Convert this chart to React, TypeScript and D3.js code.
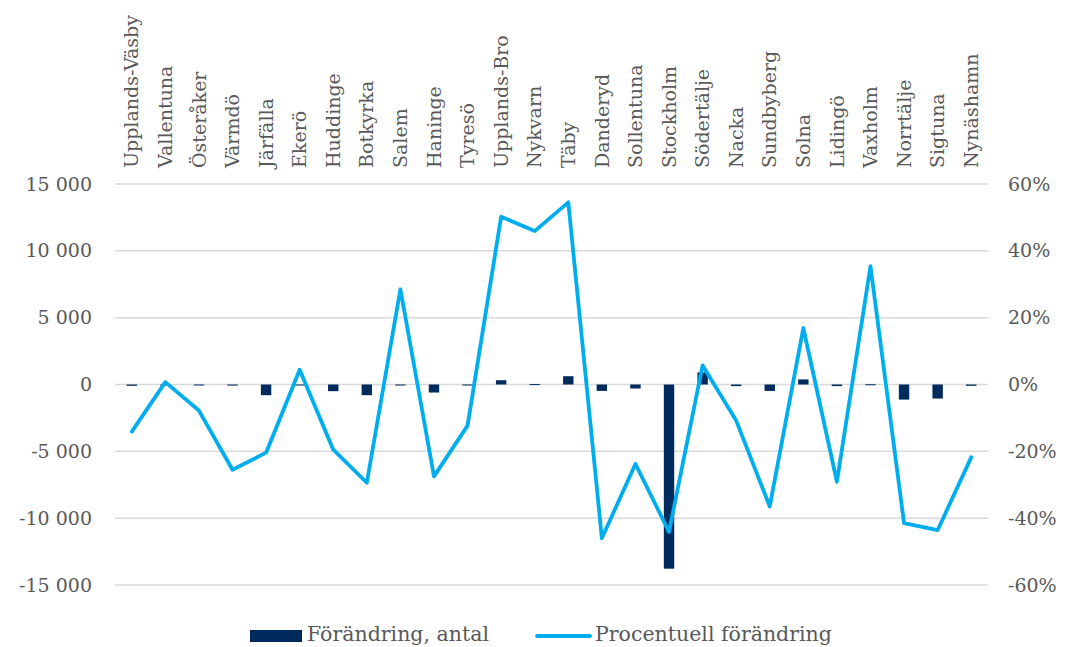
import React from 'react'
import * as d3 from 'd3'

const municipalities = [
  'Upplands-Väsby', 'Vallentuna', 'Österåker', 'Värmdö', 'Järfälla', 'Ekerö',
  'Huddinge', 'Botkyrka', 'Salem', 'Haninge', 'Tyresö', 'Upplands-Bro',
  'Nykvarn', 'Täby', 'Danderyd', 'Sollentuna', 'Stockholm', 'Södertälje',
  'Nacka', 'Sundbyberg', 'Solna', 'Lidingö', 'Vaxholm', 'Norrtälje',
  'Sigtuna', 'Nynäshamn',
]

// Förändring, antal
const changeCount = [
  -100, -20, -30, -80, -800, -20, -500, -800, -20, -600, -50, 320,
  30, 620, -480, -300, -13780, 900, -120, -480, 380, -120, 20, -1130,
  -1050, -100,
]

// Procentuell förändring (%)
const changePct = [
  -14.1, 0.7, -7.8, -25.5, -20.4, 4.4, -19.5, -29.4, 28.5, -27.5, -12.3, 50.2,
  45.9, 54.5, -46, -23.8, -44.1, 5.7, -10.8, -36.5, 16.9, -29.1, 35.4, -41.5,
  -43.6, -21.8,
]

const leftTicks = [-15000, -10000, -5000, 0, 5000, 10000, 15000]
const rightTicks = [-60, -40, -20, 0, 20, 40, 60]

const legendLabels = ['Förändring, antal', 'Procentuell förändring']

const W = 1067
const H = 647
const FONT = "'DejaVu Serif', serif"
const TEXT = '#595959'
const NAVY = '#002B5C'
const CYAN = '#00AEEF'

const fmt = (v: number) => {
  const s = Math.abs(v).toString().replace(/\B(?=(\d{3})+(?!\d))/g, ' ')
  return (v < 0 ? '-' : '') + s
}

export default function App() {
  const x = d3.scaleBand<string>().domain(municipalities).range([115, 988]).padding(0)
  const yL = d3.scaleLinear().domain([-15000, 15000]).range([585, 184])
  const yR = d3.scaleLinear().domain([-60, 60]).range([585, 184])
  const bw = x.bandwidth() * 0.31
  const cx = (c: string) => (x(c) as number) + x.bandwidth() / 2

  const line = d3.line<number>()
    .x((_, i) => cx(municipalities[i]))
    .y((d) => yR(d))

  return (
    <svg width={W} height={H} style={{ position: 'absolute', left: 0, top: 0, fontFamily: FONT }}>
      <rect width={W} height={H} fill="#fff" />
      {leftTicks.map((t) => (
        <g key={t}>
          <line x1={115} x2={988} y1={yL(t)} y2={yL(t)} stroke="#d9d9d9" strokeWidth={1.5} />
          <text x={92} y={yL(t)} dy="0.35em" textAnchor="end" fontSize={19} fill={TEXT}>{fmt(t)}</text>
        </g>
      ))}
      {rightTicks.map((t) => (
        <text key={t} x={1008} y={yR(t)} dy="0.35em" fontSize={19} fill={TEXT}>{t}%</text>
      ))}
      {municipalities.map((m) => (
        <text key={m} transform={`translate(${cx(m)},168) rotate(-90)`} dy="0.35em"
          fontSize={19} fill={TEXT}>{m}</text>
      ))}
      {municipalities.map((m, i) => {
        const v = changeCount[i]
        return (
          <rect key={m} x={cx(m) - bw / 2} y={Math.min(yL(v), yL(0))} width={bw}
            height={Math.max(1, Math.abs(yL(v) - yL(0)))} fill={NAVY} />
        )
      })}
      <path d={line(changePct) || ''} fill="none" stroke={CYAN} strokeWidth={3.8} strokeLinejoin="round" strokeLinecap="round" />
      <g>
        <rect x={250} y={630} width={52} height={12} fill={NAVY} />
        <text x={307} y={641} fontSize={20.5} fill={TEXT}>{legendLabels[0]}</text>
        <line x1={537} x2={590} y1={636} y2={636} stroke={CYAN} strokeWidth={3.8} strokeLinecap="round" />
        <text x={595} y={641} fontSize={20.5} fill={TEXT}>{legendLabels[1]}</text>
      </g>
    </svg>
  )
}
